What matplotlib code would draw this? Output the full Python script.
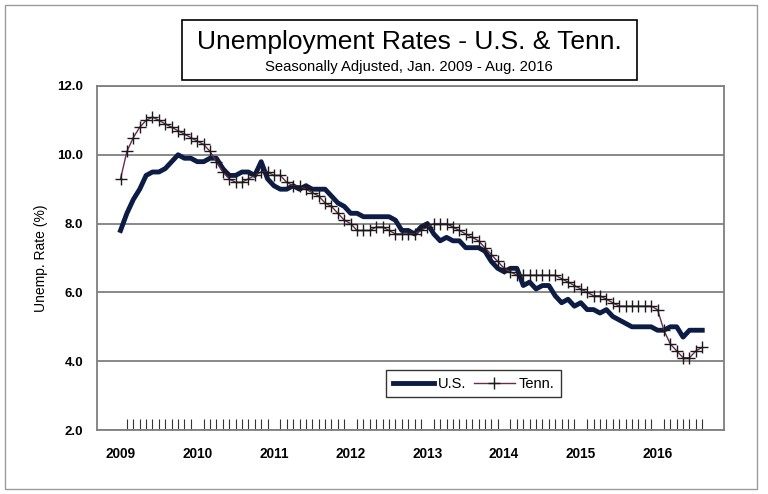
import matplotlib
matplotlib.use("Agg")
import matplotlib.pyplot as plt
from matplotlib.patches import Rectangle
import numpy as np

plt.rcParams['font.family'] = ['Liberation Sans', 'DejaVu Sans']

# monthly rates, Jan 2009 - Aug 2016
us = [7.8, 8.3, 8.7, 9.0, 9.4, 9.5, 9.5, 9.6, 9.8, 10.0, 9.9, 9.9,
      9.8, 9.8, 9.9, 9.9, 9.6, 9.4, 9.4, 9.5, 9.5, 9.4, 9.8, 9.3,
      9.1, 9.0, 9.0, 9.1, 9.0, 9.1, 9.0, 9.0, 9.0, 8.8, 8.6, 8.5,
      8.3, 8.3, 8.2, 8.2, 8.2, 8.2, 8.2, 8.1, 7.8, 7.8, 7.7, 7.9,
      8.0, 7.7, 7.5, 7.6, 7.5, 7.5, 7.3, 7.3, 7.3, 7.2, 6.9, 6.7,
      6.6, 6.7, 6.7, 6.2, 6.3, 6.1, 6.2, 6.2, 5.9, 5.7, 5.8, 5.6,
      5.7, 5.5, 5.5, 5.4, 5.5, 5.3, 5.2, 5.1, 5.0, 5.0, 5.0, 5.0,
      4.9, 4.9, 5.0, 5.0, 4.7, 4.9, 4.9, 4.9]
tenn = [9.3, 10.1, 10.5, 10.8, 11.0, 11.1, 11.0, 10.9, 10.8, 10.7, 10.6, 10.5,
        10.4, 10.3, 10.1, 9.8, 9.5, 9.3, 9.2, 9.2, 9.3, 9.4, 9.5, 9.5,
        9.4, 9.4, 9.2, 9.1, 9.1, 9.0, 8.9, 8.8, 8.6, 8.5, 8.3, 8.1,
        8.0, 7.8, 7.8, 7.8, 7.9, 7.9, 7.8, 7.7, 7.7, 7.7, 7.7, 7.8,
        7.9, 8.0, 8.0, 8.0, 7.9, 7.8, 7.7, 7.6, 7.5, 7.3, 7.1, 6.9,
        6.7, 6.6, 6.5, 6.5, 6.5, 6.5, 6.5, 6.5, 6.5, 6.4, 6.3, 6.2,
        6.1, 6.0, 5.9, 5.9, 5.8, 5.7, 5.6, 5.6, 5.6, 5.6, 5.6, 5.6,
        5.5, 4.9, 4.5, 4.3, 4.1, 4.1, 4.3, 4.4]
years = ["2009", "2010", "2011", "2012", "2013", "2014", "2015", "2016"]
yticks = [2.0, 4.0, 6.0, 8.0, 10.0, 12.0]

months = np.arange(len(us))

fig = plt.figure(figsize=(7.68, 4.94), dpi=100)
ax = fig.add_axes([97/768, 1 - 430/494, 627/768, 344/494])

ax.plot(months, us, color='#0c1c44', lw=3.5, label='U.S.', zorder=3,
        solid_joinstyle='round')
ax.plot(months, tenn, color='#6a2a52', lw=1.0, marker='+', ms=8, mew=1.0,
        mec='#1a1a1a', label='Tenn.', zorder=4)

ax.set_ylim(2, 12)
ax.set_xlim(-3.68, 94.4)
ax.set_yticks(yticks)
ax.set_yticklabels(["%.1f" % t for t in yticks], fontsize=9.5, fontweight='bold')
ax.tick_params(axis='y', length=0, pad=10)
ax.set_xticks(np.arange(0, len(us), 12))
ax.set_xticklabels(years, fontsize=9.8, fontweight='bold')
ax.set_xticks(months, minor=True)
ax.tick_params(axis='x', which='major', length=0, pad=12)
ax.tick_params(axis='x', which='minor', direction='in', length=8, width=0.8,
               color='#333333')
ax.yaxis.grid(True, color='#7f7f7f', lw=1.3)
ax.set_axisbelow(True)
for s in ax.spines.values():
    s.set_color('#7f7f7f')
    s.set_linewidth(1.3)

ax.set_ylabel('Unemp. Rate (%)', fontsize=10, labelpad=7)

leg = ax.legend(loc='center', bbox_to_anchor=(0.601, 0.134), ncol=2,
                fontsize=10.5, frameon=True, fancybox=False, handlelength=2.8,
                columnspacing=0.5, handletextpad=0.3, borderpad=0.45)
leg.get_frame().set_edgecolor('black')
leg.get_frame().set_linewidth(1.0)

# title box
fig.patches.append(Rectangle((182/768, 1 - 80/494), 455/768, 60/494,
                             transform=fig.transFigure, fill=False,
                             edgecolor='black', lw=1.2))
fig.text(409/768, 1 - 42/494, 'Unemployment Rates - U.S. & Tenn.',
         ha='center', va='center', fontsize=19)
fig.text(409/768, 1 - 67/494, 'Seasonally Adjusted, Jan. 2009 - Aug. 2016',
         ha='center', va='center', fontsize=10.7)

# outer border
fig.patches.append(Rectangle((5/768, 5/494), 752/768, 484/494,
                             transform=fig.transFigure, fill=False,
                             edgecolor='#9a9a9a', lw=1.0))

fig.savefig('out.png', dpi=100)
